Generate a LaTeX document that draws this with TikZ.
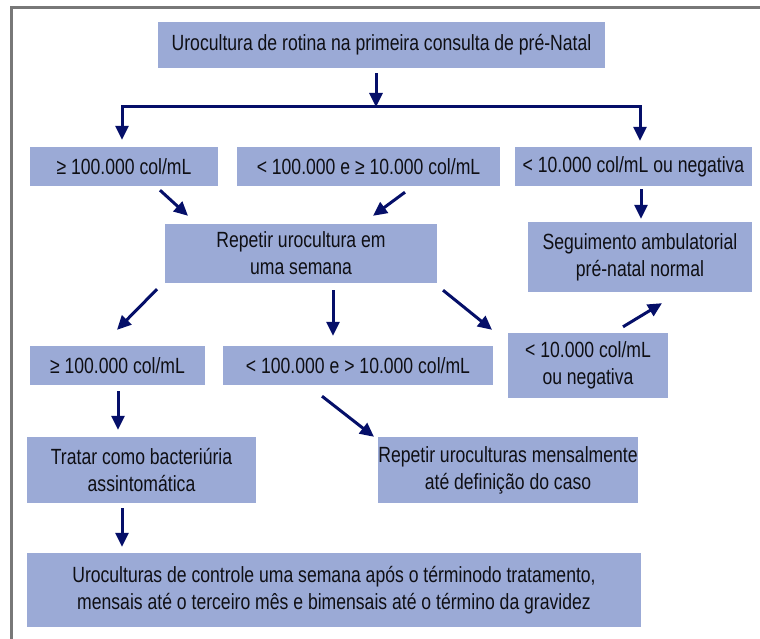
\documentclass[tikz,border=0pt]{standalone}
\usepackage{fontspec}
\setmainfont{Liberation Sans}[FakeStretch=0.8]
\usetikzlibrary{arrows.meta,calc}
\definecolor{boxfill}{RGB}{155,170,214}
\definecolor{navy}{RGB}{5,15,105}
\definecolor{txt}{RGB}{15,15,20}
\definecolor{framegray}{RGB}{120,120,120}
\tikzset{
  box/.style={fill=boxfill, draw=none, inner sep=0pt, align=center, text=txt,
    font=\fontsize{22}{27}\selectfont},
  arr/.style={draw=navy, line width=3pt, -{Triangle[length=14pt,width=13pt]}},
  plain/.style={draw=navy, line width=3pt},
  frame/.style={draw=framegray, line width=3pt}
}
\begin{document}
\begin{tikzpicture}[x=1pt,y=-1pt]
\useasboundingbox (0,0) rectangle (760,639);
\fill[white] (0,0) rectangle (760,639);
% frame
\coordinate (f1) at (11,639);
\coordinate (f2) at (11,8);
\coordinate (f3) at (760,8);
\draw[frame] (f1) -- (f2) -- (f3);

% boxes
\node[box, minimum width=447pt, minimum height=46pt] (top) at (381.5,45) {Urocultura de rotina na primeira consulta de pré-Natal};
\node[box, minimum width=188pt, minimum height=39pt] (A) at (124,166.5) {≥ 100.000 col/mL};
\node[box, minimum width=263pt, minimum height=39pt] (B) at (368.5,166.5) {< 100.000 e ≥ 10.000 col/mL};
\node[box, minimum width=237pt, minimum height=39pt] (C) at (633.5,166.5) {< 10.000 col/mL ou negativa};
\node[box, minimum width=272pt, minimum height=59pt] (R) at (301,253.5) {Repetir urocultura em\\uma semana};
\node[box, minimum width=224pt, minimum height=70pt] (S) at (640,257) {Seguimento ambulatorial\\pré-natal normal};
\node[box, minimum width=175pt, minimum height=39pt] (D) at (117.5,365.5) {≥ 100.000 col/mL};
\node[box, minimum width=270pt, minimum height=39pt] (E) at (358,365.5) {< 100.000 e > 10.000 col/mL};
\node[box, minimum width=160pt, minimum height=65pt] (F) at (588,365.5) {< 10.000 col/mL\\ou negativa};
\node[box, minimum width=229pt, minimum height=66pt] (G) at (141.5,470) {Tratar como bacteriúria\\assintomática};
\node[box, minimum width=258pt, minimum height=66pt] (H) at (508,470) {Repetir uroculturas mensalmente\\até definição do caso};
\node[box, minimum width=614pt, minimum height=74pt] (I) at (334,590) {Uroculturas de controle uma semana após o términodo tratamento,\\mensais até o terceiro mês e bimensais até o término da gravidez};

% connectors
\coordinate (j) at (376,107);
\coordinate (jl) at (122,107);
\coordinate (jr) at (640,107);
\draw[arr] (top.south -| j) ++(0,5) -- (j);
\draw[plain, line cap=rect] (jl) -- (jr);
\draw[arr] (jl) -- ($(jl |- A.north)+(0,-7)$);
\draw[arr] (jr) -- ($(jr |- C.north)+(0,-6)$);

\draw[arr] ($(A.south)+(36,4)$) -- ($(R.north)+(-113,-8)$);
\draw[arr] ($(B.south)+(36.5,6)$) -- ($(R.north)+(72,-8)$);
\draw[arr] ($(C.south)+(7.5,3)$) -- ($(S.north)+(1,-3)$);
\draw[arr] ($(R.south)+(-144,6)$) -- ($(D.north)+(-0.5,-16)$);
\draw[arr] ($(R.south)+(32,7)$) -- ($(E.north)+(-25,-10)$);
\draw[arr] ($(R.south)+(142,7)$) -- ($(F.north)+(-96,-3)$);
\draw[arr] ($(F.north)+(35,-6)$) -- ($(S.south)+(22,11)$);
\draw[arr] ($(D.south)+(0.5,6)$) -- ($(G.north)+(-23.5,-7)$);
\draw[arr] ($(E.south)+(-36,11)$) -- ($(H.north)+(-134,0)$);
\draw[arr] ($(G.south)+(-19.5,5)$) -- ($(I.north)+(-212,-6)$);
\end{tikzpicture}
\end{document}
